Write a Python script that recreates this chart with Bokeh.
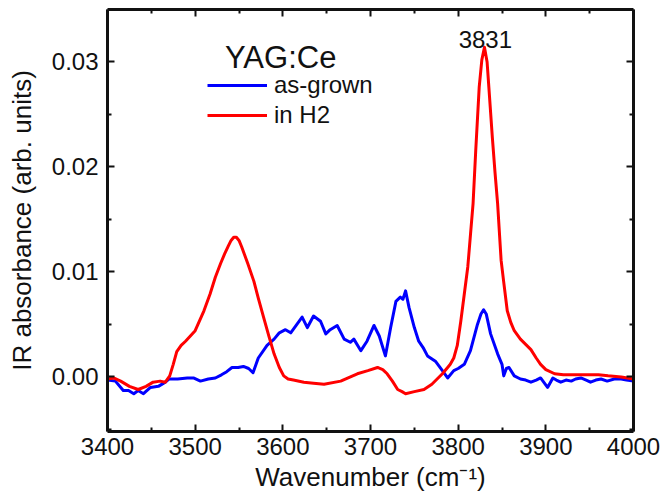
from bokeh.plotting import figure
from bokeh.models import (Range1d, LinearAxis, FixedTicker, PrintfTickFormatter,
                          Legend, LegendItem, Label)
from bokeh.embed import file_html
from bokeh.resources import INLINE

# ---------------- data ----------------
wn_grown = [3400, 3409, 3418, 3424, 3430, 3435, 3441, 3449, 3458, 3466,
            3470, 3480, 3491, 3498, 3506, 3515, 3523, 3530, 3536, 3542,
            3549, 3555, 3561, 3566, 3572, 3582, 3590, 3596, 3603, 3609,
            3616, 3622, 3628, 3635, 3643, 3649, 3654, 3662, 3670, 3677,
            3681, 3689, 3696, 3704, 3710, 3717, 3723, 3729, 3734, 3737,
            3740, 3744, 3750, 3755, 3760, 3765, 3774, 3782, 3788, 3795,
            3800, 3807, 3814, 3822, 3826, 3829, 3832, 3837, 3845, 3850,
            3852, 3855, 3858, 3864, 3871, 3877, 3883, 3889, 3894, 3902,
            3908, 3912, 3917, 3923, 3929, 3934, 3940, 3946, 3951, 3957,
            3963, 3970, 3978, 3986, 3992, 4000]
abs_grown = [-0.0003, -0.0004, -0.0013, -0.0013, -0.0016, -0.0013, -0.0016, -0.0010, -0.0009, -0.0005,
             -0.0002, -0.0002, -0.0001, -0.0001, -0.0004, -0.0002, -0.0001, 0.0002, 0.0005, 0.0009,
             0.0009, 0.0010, 0.0008, 0.0004, 0.0018, 0.0030, 0.0036, 0.0042, 0.0045, 0.0042,
             0.0050, 0.0057, 0.0047, 0.0058, 0.0053, 0.0041, 0.0045, 0.0049, 0.0036, 0.0033,
             0.0036, 0.0025, 0.0034, 0.0049, 0.0039, 0.0020, 0.0047, 0.0072, 0.0076, 0.0074,
             0.0082, 0.0066, 0.0047, 0.0034, 0.0028, 0.0020, 0.0015, 0.0006, -0.0001, 0.0006,
             0.0008, 0.0012, 0.0025, 0.0050, 0.0060, 0.0064, 0.0060, 0.0041, 0.0022, 0.0012,
             0.0001, 0.0008, 0.0009, 0.0001, -0.0002, -0.0003, -0.0005, -0.0003, -0.0001, -0.0010,
             -0.0001, -0.0003, -0.0005, -0.0003, -0.0004, -0.0002, -0.0001, -0.0003, -0.0005, -0.0003,
             -0.0002, -0.0004, -0.0002, -0.0002, -0.0003, -0.0004]

wn_h2 = [3400, 3407, 3415, 3425, 3435, 3444, 3452, 3460, 3466, 3471,
         3475, 3479, 3484, 3489, 3500, 3510, 3517, 3523, 3529, 3534,
         3538, 3541, 3544, 3547, 3550, 3553, 3560, 3567, 3572, 3578,
         3584, 3590, 3596, 3601, 3606, 3612, 3624, 3635, 3647, 3666,
         3685, 3697, 3708, 3714, 3719, 3725, 3731, 3736, 3740, 3750,
         3761, 3770, 3776, 3782, 3788, 3791, 3795, 3799, 3803, 3807,
         3811, 3814, 3817, 3820, 3824, 3827, 3830, 3833, 3835, 3839,
         3842, 3845, 3849, 3852, 3856, 3860, 3864, 3871, 3877, 3883,
         3889, 3894, 3900, 3910, 3920, 3940, 3960, 3971, 3986, 4000]
abs_h2 = [-0.0002, -0.0001, -0.0004, -0.0009, -0.0012, -0.0009, -0.0005, -0.0004, -0.0005, 0.0001,
          0.0012, 0.0024, 0.0030, 0.0034, 0.0044, 0.0063, 0.0079, 0.0095, 0.0108, 0.0118,
          0.0125, 0.0130, 0.0133, 0.0133, 0.0130, 0.0124, 0.0108, 0.0091, 0.0075, 0.0057,
          0.0039, 0.0022, 0.0009, 0.0001, -0.0002, -0.0003, -0.0005, -0.0006, -0.0007, -0.0004,
          0.0003, 0.0006, 0.0009, 0.0007, 0.0003, -0.0004, -0.0012, -0.0014, -0.0016, -0.0014,
          -0.0012, -0.0007, -0.0002, 0.0003, 0.0009, 0.0012, 0.0018, 0.0030, 0.0053, 0.0079,
          0.0105, 0.0135, 0.0165, 0.0215, 0.0276, 0.0302, 0.0314, 0.0300, 0.0276, 0.0228,
          0.0195, 0.0165, 0.0111, 0.0090, 0.0063, 0.0052, 0.0044, 0.0036, 0.0031, 0.0026,
          0.0018, 0.0012, 0.0007, 0.0003, 0.0002, 0.0002, 0.0002, 0.0001, 0.0000, -0.0002]

series_names = ["as-grown", "in H2"]
x_ticks = [3400, 3500, 3600, 3700, 3800, 3900, 4000]
x_minor = [3450, 3550, 3650, 3750, 3850, 3950]
y_ticks = [0.0, 0.01, 0.02, 0.03]
y_minor = [-0.005, 0.005, 0.015, 0.025]
peak_pos = 3831
peak_text = "3831"
sample_text = "YAG:Ce"
x_title = "Wavenumber (cm\u207b\u00b9)"
y_title = "IR absorbance (arb. units)"

FONT = "Liberation Sans"
INK = "#111111"

p = figure(width=661, height=498, output_backend="svg", toolbar_location=None,
           x_range=Range1d(3400, 4000), y_range=Range1d(-0.0052, 0.035),
           x_axis_location=None, y_axis_location=None,
           min_border_left=107, min_border_right=28,
           min_border_top=9, min_border_bottom=67)
p.outline_line_color = None
p.xgrid.visible = False
p.ygrid.visible = False
p.background_fill_color = "white"
p.border_fill_color = "white"


def style_axis(ax, show_labels):
    ax.axis_line_width = 3
    ax.axis_line_color = INK
    ax.major_tick_in = 7
    ax.major_tick_out = 0
    ax.minor_tick_in = 4
    ax.minor_tick_out = 0
    ax.major_tick_line_width = 2
    ax.minor_tick_line_width = 2
    ax.major_tick_line_color = INK
    ax.minor_tick_line_color = INK
    if show_labels:
        ax.major_label_text_font = FONT
        ax.major_label_text_font_size = "24px"
        ax.major_label_text_color = INK
        ax.axis_label_text_font = FONT
        ax.axis_label_text_font_size = "26px"
        ax.axis_label_text_font_style = "normal"
        ax.axis_label_text_color = INK
    else:
        ax.major_label_text_font_size = "1px"
        ax.major_label_text_color = None
        ax.major_label_standoff = 0


xb = LinearAxis(ticker=FixedTicker(ticks=x_ticks, minor_ticks=x_minor), axis_label=x_title)
style_axis(xb, True)
xb.major_label_standoff = 6
xb.axis_label_standoff = 4
p.add_layout(xb, "below")

xt = LinearAxis(ticker=FixedTicker(ticks=x_ticks, minor_ticks=x_minor))
style_axis(xt, False)
p.add_layout(xt, "above")

yl = LinearAxis(ticker=FixedTicker(ticks=y_ticks, minor_ticks=y_minor), axis_label=y_title,
                formatter=PrintfTickFormatter(format="%.2f"))
style_axis(yl, True)
yl.major_label_standoff = 9
yl.axis_label_standoff = 12
p.add_layout(yl, "left")

yr = LinearAxis(ticker=FixedTicker(ticks=y_ticks, minor_ticks=y_minor))
style_axis(yr, False)
p.add_layout(yr, "right")

r_grown = p.line(wn_grown, abs_grown, line_color="#0000ff", line_width=3, line_join="round")
r_h2 = p.line(wn_h2, abs_h2, line_color="#ff0000", line_width=3, line_join="round")

legend = Legend(items=[LegendItem(label=series_names[0], renderers=[r_grown]),
                       LegendItem(label=series_names[1], renderers=[r_h2])],
                location=(100, 302), orientation="vertical",
                glyph_width=60, glyph_height=28, label_height=28, spacing=2,
                padding=0, margin=0, label_standoff=7,
                label_text_font=FONT, label_text_font_size="24px", label_text_color=INK,
                border_line_color=None, background_fill_alpha=0)
p.add_layout(legend)

p.add_layout(Label(x=3534, y=0.0304, text=sample_text, text_font=FONT,
                   text_font_size="31px", text_color=INK, text_baseline="alphabetic"))
p.add_layout(Label(x=peak_pos, y=0.0321, text=peak_text, text_font=FONT,
                   text_font_size="24px", text_color=INK, text_align="center",
                   text_baseline="alphabetic"))

open("out.html", "w").write(file_html(p, INLINE))
